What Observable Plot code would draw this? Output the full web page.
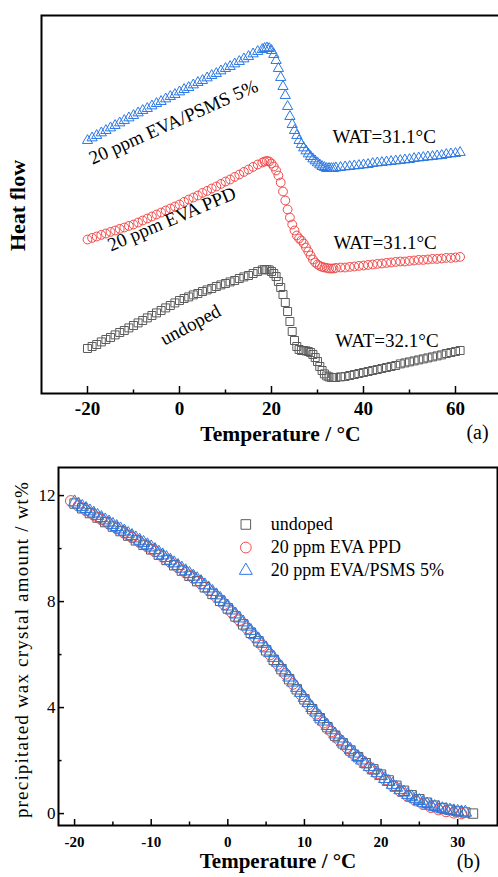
<!DOCTYPE html>
<html><head><meta charset="utf-8">
<script src="https://cdn.jsdelivr.net/npm/d3@7"></script>
<script src="https://cdn.jsdelivr.net/npm/@observablehq/plot@0.6"></script>
<style>
html,body{margin:0;padding:0;background:#fff;}
#wrap{position:relative;width:498px;height:877px;overflow:hidden;background:#fff;}
#wrap svg{position:absolute;left:0;max-width:none !important;}
</style></head><body><div id="wrap"></div>
<script>
// ---------- Panel (a): DSC heat flow curves ----------
const tempsA = [-20,-19,-18,-17,-16,-15,-14,-13,-12,-11,-10,-9,-8,-7,-6,-5,-4,-3,-2,-1,0,1,2,3,4,5,6,7,8,9,10,11,12,13,14,15,16,17,
18,18.5,19,19.5,20,20.5,21,21.5,22,22.5,23,23.5,24,24.5,25,25.5,26,26.5,27,27.5,28,28.5,29,29.5,30,30.5,31,31.5,32,32.5,33,33.5,34,
35,36,37,38,39,40,41,42,43,44,45,46,47,48,49,50,51,52,53,54,55,56,57,58,59,60,61];

const undopedA = [2.25,2.35,2.45,2.58,2.70,2.80,2.93,3.05,3.15,3.28,3.40,3.53,3.65,3.78,3.90,4.03,4.15,4.28,4.40,4.53,4.65,4.75,4.83,4.93,5.00,5.10,5.18,5.25,5.35,5.43,5.50,5.58,5.65,5.75,5.83,5.90,6.00,6.10,
6.18,6.20,6.20,6.18,6.10,6.00,5.85,5.60,5.30,4.95,4.55,4.10,3.60,3.10,2.65,2.35,2.20,2.15,2.15,2.13,2.10,2.05,1.95,1.80,1.60,1.35,1.15,0.98,0.88,0.83,0.80,0.80,0.80,
0.83,0.85,0.90,0.95,1.00,1.05,1.10,1.15,1.20,1.25,1.30,1.35,1.40,1.48,1.53,1.58,1.63,1.68,1.73,1.78,1.83,1.88,1.93,2.00,2.05,2.10,2.15];

const ppdA = [7.70,7.78,7.85,7.93,8.00,8.08,8.15,8.23,8.30,8.38,8.45,8.55,8.65,8.75,8.85,8.95,9.05,9.15,9.25,9.35,9.45,9.58,9.70,9.80,9.90,10.03,10.13,10.25,10.35,10.48,10.60,10.70,10.83,10.95,11.08,11.20,11.33,11.45,
11.55,11.60,11.63,11.60,11.50,11.35,11.15,10.90,10.55,10.10,9.65,9.20,8.80,8.45,8.15,7.90,7.75,7.65,7.50,7.30,7.10,6.90,6.70,6.55,6.45,6.38,6.33,6.30,6.28,6.25,6.25,6.25,6.28,
6.30,6.30,6.33,6.35,6.38,6.40,6.43,6.45,6.48,6.50,6.53,6.55,6.58,6.60,6.60,6.63,6.65,6.68,6.68,6.70,6.73,6.73,6.75,6.78,6.78,6.80,6.83];

const psmsA = [12.65,12.78,12.90,13.03,13.15,13.28,13.40,13.53,13.65,13.78,13.90,14.03,14.15,14.25,14.38,14.50,14.60,14.73,14.85,14.95,15.08,15.20,15.30,15.43,15.55,15.65,15.78,15.90,16.00,16.13,16.25,16.35,16.48,16.60,16.73,16.85,16.98,17.10,
17.20,17.25,17.28,17.25,17.15,16.95,16.65,16.25,15.80,15.35,14.90,14.35,13.85,13.45,13.15,12.90,12.65,12.45,12.28,12.13,11.98,11.85,11.73,11.63,11.53,11.43,11.35,11.30,11.25,11.25,11.25,11.25,11.28,
11.30,11.33,11.35,11.38,11.40,11.43,11.45,11.50,11.53,11.55,11.58,11.60,11.63,11.65,11.68,11.70,11.75,11.78,11.80,11.83,11.85,11.88,11.90,11.95,11.98,12.00,12.05];

const majorTicksA = [-20, 0, 20, 40, 60];
const minorTicksA = [-10, 10, 30, 50];

// ---------- Panel (b): precipitated wax crystal amount ----------
const tempsPsmsB = [-20,-19.5,-19,-18.5,-18,-17.5,-17,-16.5,-16,-15.5,-15,-14.5,-14,-13.5,-13,-12.5,-12,-11.5,-11,-10.5,
-10,-9.5,-9,-8.5,-8,-7.5,-7,-6.5,-6,-5.5,-5,-4.5,-4,-3.5,-3,-2.5,-2,-1.5,-1,-0.5,
0,0.5,1,1.5,2,2.5,3,3.5,4,4.5,5,5.5,6,6.5,7,7.5,8,8.5,9,9.5,
10,10.5,11,11.5,12,12.5,13,13.5,14,14.5,15,15.5,16,16.5,17,17.5,18,18.5,19,19.5,
20,20.5,21,21.5,22,22.5,23,23.5,24,24.5,25,25.5,26,26.5,27,27.5,28,28.5,29,29.5,30,30.5,31];
const psmsB = [11.75,11.67,11.58,11.50,11.41,11.33,11.24,11.16,11.07,10.99,10.90,10.82,10.73,10.65,10.56,10.48,10.39,10.30,10.22,10.13,
10.05,9.95,9.85,9.75,9.65,9.55,9.45,9.35,9.25,9.15,9.05,8.95,8.85,8.74,8.62,8.50,8.37,8.24,8.11,7.97,
7.82,7.67,7.52,7.37,7.22,7.06,6.90,6.74,6.58,6.41,6.24,6.06,5.88,5.70,5.52,5.33,5.14,4.95,4.75,4.56,
4.37,4.18,3.99,3.82,3.65,3.48,3.31,3.15,2.99,2.84,2.69,2.55,2.41,2.27,2.14,2.01,1.88,1.76,1.64,1.53,
1.42,1.31,1.20,1.09,0.98,0.89,0.80,0.71,0.62,0.55,0.48,0.41,0.35,0.30,0.25,0.21,0.17,0.14,0.12,0.09,0.07,0.05,0.04];

const tempsPpdB = [-20.5,-19.5,-18.5,-17.5,-16.5,-15.5,-14.5,-13.5,-12.5,-11.5,-10.5,-9.5,-8.5,-7.5,-6.5,-5.5,-4.5,-3.5,-2.5,-1.5,
-0.5,0.5,1.5,2.5,3.5,4.5,5.5,6.5,7.5,8.5,9.5,10.5,11.5,12.5,13.5,14.5,15.5,16.5,17.5,18.5,
19.5,20.5,21.5,22.5,23.5,24.5,25.5,26.5,27.5,28.5,29.5,30.5];
const ppdB = [11.80,11.61,11.44,11.27,11.10,10.93,10.76,10.59,10.42,10.24,10.07,9.89,9.69,9.49,9.29,9.09,8.89,8.68,8.44,8.18,
7.90,7.60,7.30,6.99,6.67,6.34,6.00,5.64,5.27,4.89,4.50,4.12,3.76,3.43,3.10,2.79,2.50,2.23,1.98,1.74,
1.51,1.28,1.05,0.84,0.65,0.49,0.35,0.24,0.15,0.08,0.03,0.00];

const tempsUndopedB = [-20,-19,-18,-17,-16,-15,-14,-13,-12,-11,-10,-9,-8,-7,-6,-5,-4,-3,-2,-1,
0,1,2,3,4,5,6,7,8,9,10,11,12,13,14,15,16,17,18,19,20,21,22,23,24,25,26,27,28,29,30,31,32];
const undopedB = [11.70,11.52,11.34,11.17,11.00,10.83,10.66,10.49,10.31,10.14,9.97,9.77,9.57,9.37,9.17,8.97,8.77,8.54,8.29,8.03,
7.74,7.44,7.14,6.82,6.50,6.16,5.80,5.45,5.07,4.69,4.31,3.94,3.60,3.26,2.94,2.65,2.38,2.13,1.90,1.67,
1.47,1.25,1.05,0.86,0.69,0.54,0.41,0.30,0.21,0.14,0.08,0.04,0.00];

const majorTicksBx = [-20, -10, 0, 10, 20, 30];
const minorTicksBx = [-15, -5, 5, 15, 25];
const majorTicksBy = [0, 4, 8, 12];
const minorTicksBy = [2, 6, 10];

const seriesNames = ["undoped", "20 ppm EVA PPD", "20 ppm EVA/PSMS 5%"];
const seriesSymbols = ["square", "circle", "triangle"];
const seriesColors = ["#5c5c5c", "#f24848", "#2b78e4"];

// ---------- helpers ----------
const FONT = "'Liberation Serif','Times New Roman',Times,serif";
const rows = (ts, vs) => ts.map((t, i) => ({t, v: vs[i]}));
const svgStyle = {fontFamily: FONT, background: "transparent", color: "black", maxWidth: "none", overflow: "visible"};
const label = (s, o) => Plot.text([s], {text: d => d, textAnchor: "middle", fill: "black", ...o});

// ---------- Plot (a) ----------
const plotA = Plot.plot({
  width: 502, height: 445,
  marginTop: 15, marginBottom: 52, marginLeft: 41, marginRight: 1,
  x: {domain: [-30, 70]},
  y: {domain: [0, 18.9], axis: null},
  style: svgStyle,
  marks: [
    Plot.dot(rows(tempsA, undopedA), {x: "t", y: "v", symbol: "square", r: 4.5, stroke: seriesColors[0], strokeWidth: 1, fill: "none"}),
    Plot.dot(rows(tempsA, ppdA), {x: "t", y: "v", symbol: "circle", r: 4.4, stroke: seriesColors[1], strokeWidth: 1, fill: "none"}),
    Plot.dot(rows(tempsA, psmsA), {x: "t", y: "v", symbol: "triangle", r: 3.8, stroke: seriesColors[2], strokeWidth: 1, fill: "none"}),
    Plot.frame({stroke: "black", strokeWidth: 2}),
    Plot.axisX({ticks: majorTicksA, tickSize: -7, tickFormat: () => "", strokeWidth: 1.5, label: null}),
    Plot.axisX({ticks: minorTicksA, tickSize: -3.5, tickFormat: () => "", strokeWidth: 1.5, label: null}),
    Plot.axisX({ticks: majorTicksA, tickSize: 0, tickPadding: 8, tickFormat: d => String(d), fontSize: 19, fontWeight: "bold", label: null, fill: "black"}),
    label("Temperature / °C", {frameAnchor: "bottom", dx: 9, dy: 47, fontSize: 21.5, fontWeight: "bold"}),
    label("(a)", {frameAnchor: "bottom-right", dx: -24, dy: 45, fontSize: 20}),
    label("Heat flow", {frameAnchor: "left", dx: -24, dy: 1, rotate: -90, fontSize: 22, fontWeight: "bold"}),
    label(seriesNames[2], {x: -1.3, y: 13.57, rotate: -24, fontSize: 19}),
    label(seriesNames[1], {x: -1.67, y: 8.72, rotate: -23, fontSize: 19}),
    label(seriesNames[0], {x: 2.39, y: 3.43, rotate: -28, fontSize: 19}),
    label("WAT=31.1°C", {x: 44.5, y: 12.85, fontSize: 19}),
    label("WAT=31.1°C", {x: 44.7, y: 7.55, fontSize: 19}),
    label("WAT=32.1°C", {x: 45.1, y: 2.65, fontSize: 19})
  ]
});

// ---------- Plot (b) ----------
const legendY = i => 10.91 - i * 0.87;
const plotB = Plot.plot({
  width: 498, height: 432,
  marginTop: 22, marginBottom: 52, marginLeft: 58, marginRight: 1,
  x: {domain: [-22.1, 35.2]},
  y: {domain: [-0.45, 13.06]},
  style: svgStyle,
  marks: [
    Plot.dot(rows(tempsUndopedB, undopedB), {x: "t", y: "v", symbol: "square", r: 5.3, stroke: seriesColors[0], strokeWidth: 1, fill: "none"}),
    Plot.dot(rows(tempsPpdB, ppdB), {x: "t", y: "v", symbol: "circle", r: 5.3, stroke: seriesColors[1], strokeWidth: 1, fill: "none"}),
    Plot.dot(rows(tempsPsmsB, psmsB), {x: "t", y: "v", symbol: "triangle", r: 4.7, stroke: seriesColors[2], strokeWidth: 1, fill: "none"}),
    Plot.frame({stroke: "black", strokeWidth: 2}),
    Plot.axisX({ticks: majorTicksBx, tickSize: -6, tickFormat: () => "", strokeWidth: 1.5, label: null}),
    Plot.axisX({ticks: minorTicksBx, tickSize: -3.5, tickFormat: () => "", strokeWidth: 1.5, label: null}),
    Plot.axisX({ticks: majorTicksBx, tickSize: 0, tickPadding: 11, tickFormat: d => String(d), fontSize: 15, fontWeight: "bold", label: null, fill: "black"}),
    Plot.axisY({ticks: majorTicksBy, tickSize: -6, tickFormat: () => "", strokeWidth: 1.5, label: null}),
    Plot.axisY({ticks: minorTicksBy, tickSize: -3.5, tickFormat: () => "", strokeWidth: 1.5, label: null}),
    Plot.axisY({ticks: majorTicksBy, tickSize: 0, tickPadding: 3, tickFormat: d => String(d), fontSize: 17, label: null, fill: "black"}),
    label("Temperature / °C", {frameAnchor: "bottom", dx: 0, dy: 42, fontSize: 21, fontWeight: "bold"}),
    label("(b)", {frameAnchor: "bottom-right", dx: -29, dy: 42, fontSize: 20}),
    label("precipitated wax crystal amount / wt%", {frameAnchor: "left", dx: -36.5, dy: 3, rotate: -90, fontSize: 19}),
    // legend
    ...seriesNames.map((name, i) => Plot.dot([name], {x: 2.35, y: legendY(i), symbol: seriesSymbols[i], r: i === 2 ? 4.8 : 5.4, stroke: seriesColors[i], strokeWidth: 1, fill: "none"})),
    ...seriesNames.map((name, i) => Plot.text([name], {text: d => d, x: 5.61, y: legendY(i), textAnchor: "start", fontSize: 18, fill: "black"}))
  ]
});

const wrap = document.getElementById("wrap");
plotA.style.top = "0px";
plotB.style.top = "445px";
wrap.appendChild(plotA);
wrap.appendChild(plotB);
plotB.querySelectorAll("text").forEach(t => {
  if (t.textContent.startsWith("precipitated")) t.style.letterSpacing = "1.2px";
});
</script></body></html>
